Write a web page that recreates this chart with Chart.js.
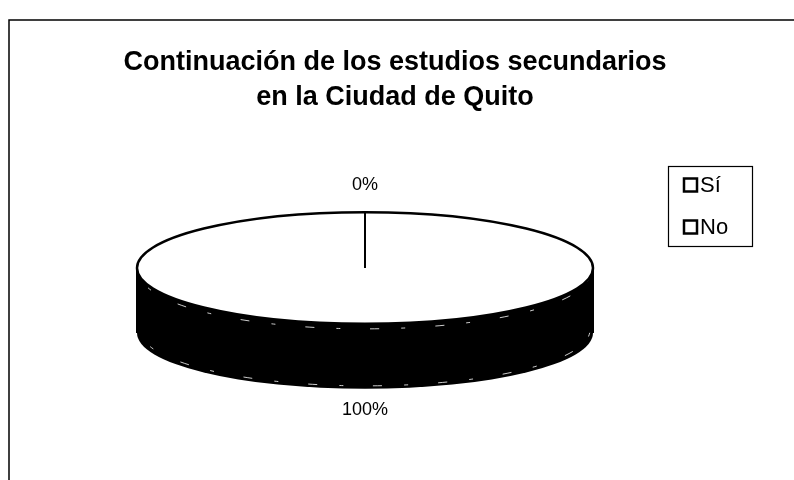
<!DOCTYPE html>
<html lang="es">
<head>
    <meta charset="UTF-8">
    <title>Continuación de los estudios secundarios</title>
    <style>
        body {
            margin: 0;
            background-color: #fff;
            font-family: Arial, "Liberation Sans", sans-serif;
        }

        .wrap {
            position: relative;
            width: 794px;
            height: 480px;
        }

        .title {
            position: absolute;
            left: 0;
            top: 44px;
            width: 790px;
            text-align: center;
            font-weight: bold;
            font-size: 27px;
            line-height: 35px;
            color: #000;
        }
    </style>
    <script src="https://cdn.jsdelivr.net/npm/chart.js"></script>
</head>
<body>
<div class="wrap">
    <canvas id="pieChart" width="794" height="480"></canvas>
    <div class="title">Continuación de los estudios secundarios<br>en la Ciudad de Quito</div>
</div>
<script>
    const labels = ['Sí', 'No'];
    const values = [0, 100];

    // flatten factor and side depth for the fake 3D look
    const tilt = 0.245;
    const depth = 65;

    function ellipseAt(ctx, x, y, rx, ry) {
        ctx.beginPath();
        ctx.ellipse(x, y, rx, ry, 0, 0, Math.PI * 2);
    }

    const pie3d = {
        id: 'pie3d',
        beforeDraw(chart) {
            const ctx = chart.ctx;
            ctx.save();
            ctx.strokeStyle = '#000';
            ctx.lineWidth = 1.5;
            ctx.beginPath();
            ctx.moveTo(9, 480);
            ctx.lineTo(9, 20);
            ctx.lineTo(794, 20);
            ctx.stroke();
            ctx.restore();
        },
        beforeDatasetsDraw(chart) {
            const ctx = chart.ctx;
            const arcs = chart.getDatasetMeta(0).data;
            ctx.save();
            arcs.forEach(function (arc) {
                if (arc.circumference <= 0) return;
                const rx = arc.outerRadius;
                const ry = rx * tilt;
                // side of the cylinder
                ctx.fillStyle = '#000';
                ellipseAt(ctx, arc.x, arc.y + depth, rx, ry);
                ctx.fill();
                ctx.fillRect(arc.x - rx, arc.y, rx * 2, depth);
                // faint scan-like highlights along the edges
                ctx.strokeStyle = 'rgba(255,255,255,0.8)';
                ctx.lineWidth = 1;
                ctx.setLineDash([4, 22, 9, 30]);
                ctx.beginPath();
                ctx.ellipse(arc.x, arc.y + depth - 3, rx - 3, ry, 0, 0.05, Math.PI - 0.05);
                ctx.stroke();
                ctx.beginPath();
                ctx.ellipse(arc.x, arc.y + 5, rx - 3, ry, 0, 0.1, Math.PI - 0.1);
                ctx.stroke();
                ctx.setLineDash([]);
            });
            ctx.restore();
            // squash the top face drawn by the library
            const a = arcs[0];
            ctx.save();
            ctx.translate(a.x, a.y);
            ctx.scale(1, tilt);
            ctx.translate(-a.x, -a.y);
        },
        afterDatasetsDraw(chart) {
            const ctx = chart.ctx;
            ctx.restore();
            const arcs = chart.getDatasetMeta(0).data;
            const total = values.reduce(function (s, v) { return s + v; }, 0);
            ctx.save();
            ctx.strokeStyle = '#000';
            ctx.lineWidth = 2.5;
            const a = arcs[0];
            const rx = a.outerRadius;
            const ry = rx * tilt;
            ellipseAt(ctx, a.x, a.y, rx, ry);
            ctx.stroke();
            ctx.lineWidth = 2;
            ctx.beginPath();
            ctx.moveTo(a.x - rx, a.y);
            ctx.lineTo(a.x - rx, a.y + depth);
            ctx.moveTo(a.x + rx, a.y);
            ctx.lineTo(a.x + rx, a.y + depth);
            ctx.stroke();
            // slice edges
            arcs.forEach(function (arc) {
                if (arc.circumference >= Math.PI * 2 - 1e-6) return;
                const ang = arc.startAngle;
                ctx.beginPath();
                ctx.moveTo(arc.x, arc.y);
                ctx.lineTo(arc.x + rx * Math.cos(ang), arc.y + ry * Math.sin(ang));
                ctx.stroke();
            });
            // percent labels
            ctx.fillStyle = '#000';
            ctx.font = '18px Arial, "Liberation Sans", sans-serif';
            ctx.textAlign = 'center';
            ctx.textBaseline = 'middle';
            arcs.forEach(function (arc, i) {
                const mid = (arc.startAngle + arc.endAngle) / 2;
                const s = Math.sin(mid);
                const px = arc.x + (rx + 10) * Math.cos(mid);
                let py = arc.y + ry * s;
                py += s > 0 ? depth + 21 : -27;
                const pct = Math.round(values[i] / total * 100) + '%';
                ctx.fillText(pct, px, py);
            });
            ctx.restore();
        },
        afterDraw(chart) {
            const ctx = chart.ctx;
            ctx.save();
            ctx.strokeStyle = '#000';
            ctx.lineWidth = 1.2;
            ctx.strokeRect(668.5, 166.5, 84, 80);
            ctx.font = '22px Arial, "Liberation Sans", sans-serif';
            ctx.textBaseline = 'middle';
            ctx.fillStyle = '#000';
            labels.forEach(function (lab, i) {
                const y = 185 + i * 42;
                ctx.lineWidth = 2.5;
                ctx.strokeRect(684, y - 6.5, 13, 13);
                ctx.fillText(lab, 700, y + 1);
            });
            ctx.restore();
        }
    };

    new Chart(document.getElementById('pieChart'), {
        type: 'pie',
        data: {
            labels: labels,
            datasets: [{
                data: values,
                backgroundColor: ['#fff', '#fff'],
                borderWidth: 0,
                radius: 228
            }]
        },
        options: {
            responsive: false,
            animation: false,
            layout: {
                padding: {left: 0, right: 64, top: 120, bottom: 64}
            },
            plugins: {
                legend: {display: false},
                tooltip: {enabled: false}
            }
        },
        plugins: [pie3d]
    });
</script>
</body>
</html>
